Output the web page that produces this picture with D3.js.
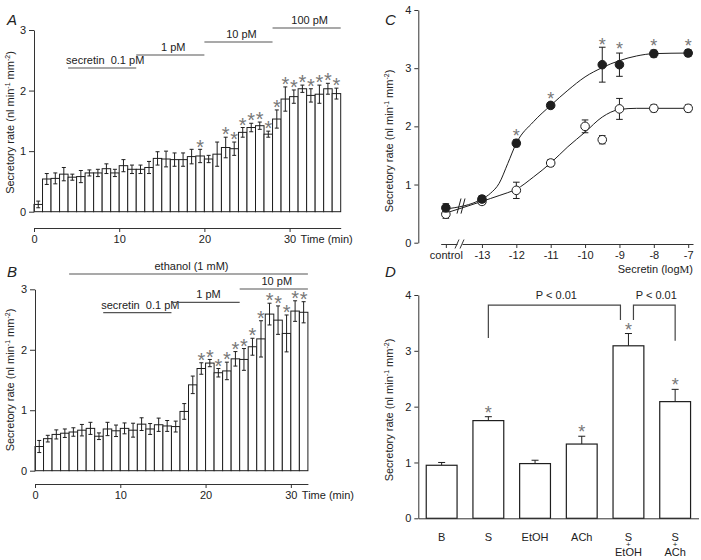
<!DOCTYPE html>
<html>
<head>
<meta charset="utf-8">
<script src="https://cdn.jsdelivr.net/npm/d3@7"></script>
<style>
  body { margin: 0; background: #fff; }
  text { font-family: "Liberation Sans", Arial, sans-serif; }
</style>
</head>
<body>
<svg id="fig" width="701" height="560"></svg>
<script>
// ---- panel A: secretin alone, 1 min samples ----
const rateA = [0.12, 0.54, 0.55, 0.62, 0.57, 0.58, 0.64, 0.64, 0.71, 0.64, 0.76, 0.70,
  0.70, 0.73, 0.88, 0.87, 0.86, 0.86, 0.91, 0.92, 0.87, 0.95, 1.06, 1.04,
  1.31, 1.39, 1.42, 1.28, 1.53, 1.86, 1.90, 2.03, 1.92, 1.94, 2.03, 1.95];
const semA = [0.055, 0.09, 0.09, 0.11, 0.05, 0.10, 0.05, 0.06, 0.08, 0.06, 0.10, 0.07,
  0.07, 0.10, 0.11, 0.13, 0.11, 0.11, 0.12, 0.11, 0.06, 0.20, 0.17, 0.11,
  0.08, 0.07, 0.06, 0.05, 0.15, 0.20, 0.11, 0.06, 0.11, 0.15, 0.09, 0.09];
const starA = [20, 23, 24, 25, 26, 27, 28, 29, 30, 31, 32, 33, 34, 35, 36];
const stimLabelA = ["secretin\u00a0 0.1 pM", "1 pM", "10 pM", "100 pM"];
const stimFromA = [4, 12, 20, 28];
const stimToA = [12, 20, 28, 36];

// ---- panel B: secretin + ethanol ----
const rateB = [0.40, 0.53, 0.60, 0.62, 0.64, 0.67, 0.70, 0.57, 0.69, 0.66, 0.70, 0.67,
  0.77, 0.69, 0.76, 0.74, 0.73, 0.98, 1.42, 1.69, 1.78, 1.62, 1.65, 1.85,
  1.84, 2.05, 2.18, 2.59, 2.49, 2.27, 2.64, 2.62];
const semB = [0.10, 0.055, 0.075, 0.07, 0.07, 0.095, 0.10, 0.055, 0.11, 0.095, 0.09, 0.115,
  0.105, 0.09, 0.11, 0.09, 0.09, 0.13, 0.145, 0.095, 0.06, 0.07, 0.145, 0.12,
  0.18, 0.14, 0.30, 0.18, 0.235, 0.305, 0.17, 0.175];
const starB = [20, 21, 22, 23, 24, 25, 26, 27, 28, 29, 30, 31, 32];
const stimLabelB = ["secretin\u00a0 0.1 pM", "1 pM", "10 pM", "ethanol (1 mM)"];
const stimFromB = [8, 16, 24, 4];
const stimToB = [16, 24, 32, 32];

// ---- panel C: dose response ----
const doseTicks = ["control", -13, -12, -11, -10, -9, -8, -7];
const doseFilled = ["control", -13, -12, -11, -9.5, -9, -8, -7];
const meanFilled = [0.60, 0.75, 1.71, 2.36, 3.06, 3.06, 3.25, 3.26];
const semFilled = [0.07, 0.06, 0.06, 0.05, 0.30, 0.20, 0.06, 0.06];
const starFilled = [false, false, true, true, true, true, true, true];
const doseOpen = ["control", -13, -12, -11, -10, -9.5, -9, -8, -7];
const meanOpen = [0.49, 0.71, 0.90, 1.37, 2.00, 1.77, 2.30, 2.31, 2.31];
const semOpen = [0.07, 0.05, 0.14, 0.06, 0.11, 0.07, 0.18, 0.06, 0.06];
const fitDose = ["control", -13, -12.75, -12.5, -12.25, -12, -11.5, -11, -10.5, -10, -9.5, -9, -8.5, -8, -7];
const fitFilled = [0.58, 0.75, 0.85, 1.02, 1.36, 1.71, 2.08, 2.36, 2.62, 2.85, 3.01, 3.13, 3.21, 3.25, 3.26];
const fitOpen = [0.51, 0.71, 0.76, 0.81, 0.86, 0.92, 1.13, 1.37, 1.65, 1.90, 2.16, 2.29, 2.31, 2.31, 2.31];

// ---- panel D: treatments ----
const groupsD = ["B", "S", "EtOH", "ACh", "S+EtOH", "S+ACh"];
const meanD = [0.95, 1.75, 0.98, 1.33, 3.09, 2.09];
const semD = [0.05, 0.07, 0.06, 0.14, 0.22, 0.22];
const starD = [false, true, false, true, true, true];
const bracketFrom = ["S", "S+EtOH"];
const bracketTo = ["S+EtOH", "S+ACh"];
const bracketLegs = [[3.23, 3.55], [3.55, 3.18]];
const bracketTop = 3.82;
const bracketText = ["P < 0.01", "P < 0.01"];

const ink = "#1e1e1e";
const axisInk = "#333";
const textInk = "#222";
const starInk = "#777";
const FONT = "Liberation Sans, Arial, sans-serif";

const svg = d3.select("#fig");
svg.append("rect").attr("width", 701).attr("height", 560).attr("fill", "#fff");

function styleAxis(g) {
  g.attr("font-size", 11).attr("font-family", FONT);
  g.select(".domain").attr("stroke", axisInk);
  g.selectAll(".tick line").attr("stroke", axisInk);
  g.selectAll(".tick text").attr("fill", textInk);
}

function yLabel(x, y) {
  const t = svg.append("text")
    .attr("transform", `translate(${x},${y}) rotate(-90)`)
    .attr("text-anchor", "middle")
    .attr("font-size", 11)
    .attr("fill", textInk);
  t.append("tspan").text("Secretory rate (nl min");
  t.append("tspan").attr("font-size", 7).attr("dy", -4).text("-1");
  t.append("tspan").attr("dy", 4).text(" mm");
  t.append("tspan").attr("font-size", 7).attr("dy", -4).text("-2");
  t.append("tspan").attr("dy", 4).text(")");
}

function panelLetter(s, x, y) {
  svg.append("text").attr("x", x).attr("y", y)
    .attr("font-size", 15).attr("font-style", "italic")
    .attr("fill", textInk).text(s);
}

// asterisk glyph centred on (x, cy)
function star(g, x, cy, size) {
  g.append("text").attr("x", x).attr("y", cy + size * 0.56)
    .attr("text-anchor", "middle").attr("font-size", size)
    .attr("fill", starInk).text("*");
}

const intFmt = d3.format("d");

// time course bar panels (A and B)
function timeCourse(o) {
  const g = svg.append("g");
  const x = d3.scaleLinear().domain([0, o.rates.length]).range(o.xRange);
  const y = d3.scaleLinear().domain([0, 3]).range(o.yRange);

  // stimulus bars on top
  o.stimLabels.forEach((lab, i) => {
    const ly = o.stimY[i];
    g.append("line")
      .attr("x1", x(o.stimFrom[i])).attr("x2", x(o.stimTo[i]))
      .attr("y1", ly).attr("y2", ly)
      .attr("stroke", "#555").attr("stroke-width", 1.2);
    const first = lab.startsWith("secretin");
    g.append("text")
      .attr("x", first ? x(o.stimFrom[i]) - 2 : (x(o.stimFrom[i]) + x(o.stimTo[i])) / 2 + 3)
      .attr("y", ly - 4)
      .attr("text-anchor", first ? "start" : "middle")
      .attr("font-size", 11).attr("fill", textInk)
      .text(lab);
  });

  g.selectAll("rect.bar").data(o.rates).join("rect")
    .attr("class", "bar")
    .attr("x", (d, i) => x(i)).attr("y", d => y(d))
    .attr("width", (d, i) => x(i + 1) - x(i))
    .attr("height", d => y(0) - y(d))
    .attr("fill", "#fff").attr("stroke", ink).attr("stroke-width", 1);

  o.rates.forEach((d, i) => {
    const cx = x(i + 0.5);
    const lo = y(d - o.sems[i]), hi = y(d + o.sems[i]);
    g.append("line").attr("x1", cx).attr("x2", cx).attr("y1", lo).attr("y2", hi)
      .attr("stroke", ink);
    [lo, hi].forEach(yy => g.append("line")
      .attr("x1", cx - 2).attr("x2", cx + 2).attr("y1", yy).attr("y2", yy)
      .attr("stroke", ink));
  });

  o.stars.forEach(n => {
    star(g, x(n - 0.5), y(o.rates[n - 1] + o.sems[n - 1]) - 7, 20);
  });

  const ya = g.append("g").attr("transform", `translate(${o.xRange[0]},0)`)
    .call(d3.axisLeft(y).tickValues([0, 1, 2, 3]).tickFormat(intFmt)
      .tickSize(5).tickPadding(3).tickSizeOuter(0));
  styleAxis(ya);

  const xa = g.append("g").attr("transform", `translate(0,${o.xAxisY})`)
    .call(d3.axisBottom(x).tickValues([0, 10, 20, 30]).tickFormat(intFmt)
      .tickSize(4).tickPadding(3).tickSizeOuter(0));
  styleAxis(xa);
  g.append("text").attr("x", x(30) + 11).attr("y", o.xAxisY + 15)
    .attr("font-size", 11).attr("fill", textInk).text("Time (min)");
}

timeCourse({
  rates: rateA, sems: semA, stars: starA,
  stimLabels: stimLabelA, stimFrom: stimFromA, stimTo: stimToA,
  stimY: [68, 55, 42, 28],
  xRange: [34, 340.7], yRange: [211.7, 30], xAxisY: 228
});
timeCourse({
  rates: rateB, sems: semB, stars: starB,
  stimLabels: stimLabelB, stimFrom: stimFromB, stimTo: stimToB,
  stimY: [312.7, 302.3, 289, 274],
  xRange: [35, 307.9], yRange: [470.7, 289.3], xAxisY: 484
});
yLabel(14, 122.5);
yLabel(14, 380);
panelLetter("A", 7, 25);
panelLetter("B", 7, 277);

// ---- panel C ----
const gC = svg.append("g");
const xC = d3.scaleLinear().domain([-14.2, -6.86]).range([440.7, 693]);
const yC = d3.scaleLinear().domain([0, 4]).range([242.7, 10]);
const posC = d => d === "control" ? xC(-14.05) : xC(d);

const fitLine = d3.line().x(d => posC(d[0])).y(d => yC(d[1])).curve(d3.curveMonotoneX);
gC.append("path").attr("d", fitLine(fitDose.map((d, i) => [d, fitFilled[i]])))
  .attr("fill", "none").attr("stroke", ink).attr("stroke-width", 1);
gC.append("path").attr("d", fitLine(fitDose.map((d, i) => [d, fitOpen[i]])))
  .attr("fill", "none").attr("stroke", ink).attr("stroke-width", 1);
// break marks across the curves
[459, 463].forEach(bx => gC.append("line")
  .attr("x1", bx - 2).attr("x2", bx + 2).attr("y1", yC(0.5)).attr("y2", yC(0.76))
  .attr("stroke", ink));

function doseSeries(doses, means, sems, fill) {
  doses.forEach((d, i) => {
    const cx = posC(d);
    const lo = yC(means[i] - sems[i]), hi = yC(means[i] + sems[i]);
    gC.append("line").attr("x1", cx).attr("x2", cx).attr("y1", lo).attr("y2", hi).attr("stroke", ink);
    [lo, hi].forEach(yy => gC.append("line")
      .attr("x1", cx - 3.3).attr("x2", cx + 3.3).attr("y1", yy).attr("y2", yy).attr("stroke", ink));
  });
  gC.selectAll(null).data(means).join("circle")
    .attr("cx", (m, i) => posC(doses[i])).attr("cy", m => yC(m)).attr("r", 4.3)
    .attr("fill", fill).attr("stroke", ink).attr("stroke-width", 1);
}
doseSeries(doseOpen, meanOpen, semOpen, "#fff");
doseSeries(doseFilled, meanFilled, semFilled, ink);
doseFilled.forEach((d, i) => {
  if (!starFilled[i]) return;
  const top = yC(meanFilled[i] + semFilled[i]) - 8;
  star(gC, posC(d), Math.max(top, 41), 18);
});

const yaC = gC.append("g").attr("transform", "translate(418.3,0)")
  .call(d3.axisLeft(yC).tickValues([0, 1, 2, 3, 4]).tickFormat(intFmt)
    .tickSize(4).tickPadding(3).tickSizeOuter(0));
styleAxis(yaC);
const xaC = gC.append("g").attr("transform", "translate(0,244)")
  .call(d3.axisBottom(xC).tickValues(doseTicks.map(d => d === "control" ? -14.05 : d))
    .tickFormat(v => v < -13.5 ? "control" : String(v))
    .tickSize(4).tickPadding(3).tickSizeOuter(0));
styleAxis(xaC);
gC.append("rect").attr("x", 457.5).attr("y", 242).attr("width", 5).attr("height", 4).attr("fill", "#fff");
[457, 462].forEach(bx => gC.append("line")
  .attr("x1", bx - 2).attr("x2", bx + 2).attr("y1", 248.5).attr("y2", 239.5)
  .attr("stroke", axisInk));
const cl = gC.append("text").attr("x", 693).attr("y", 273).attr("text-anchor", "end")
  .attr("font-size", 11).attr("fill", textInk);
cl.append("tspan").text("Secretin (log");
cl.append("tspan").attr("font-family", "Liberation Serif, serif").text("M");
cl.append("tspan").text(")");
yLabel(393, 141);
panelLetter("C", 385, 25);

// ---- panel D ----
const gD = svg.append("g");
const xD = d3.scaleBand().domain(groupsD).range([418.3, 698.5]).paddingInner(0.34).paddingOuter(0.17);
const yD = d3.scaleLinear().domain([0, 4]).range([518.3, 295]);
const midD = g => xD(g) + xD.bandwidth() / 2;

groupsD.forEach((grp, i) => {
  const cx = midD(grp);
  const hi = yD(meanD[i] + semD[i]);
  gD.append("line").attr("x1", cx).attr("x2", cx).attr("y1", yD(meanD[i])).attr("y2", hi).attr("stroke", ink);
  gD.append("line").attr("x1", cx - 3.5).attr("x2", cx + 3.5).attr("y1", hi).attr("y2", hi).attr("stroke", ink);
  if (starD[i]) star(gD, cx, hi - 8, 18);
});
gD.selectAll("rect.bar").data(meanD).join("rect")
  .attr("x", (m, i) => xD(groupsD[i])).attr("y", m => yD(m))
  .attr("width", xD.bandwidth()).attr("height", m => yD(0) - yD(m))
  .attr("fill", "#fff").attr("stroke", ink).attr("stroke-width", 1.2);

const yaD = gD.append("g").attr("transform", "translate(418.3,0)")
  .call(d3.axisLeft(yD).tickValues([0, 1, 2, 3, 4]).tickFormat(intFmt)
    .tickSize(4).tickPadding(3).tickSizeOuter(0));
styleAxis(yaD);
const xaD = gD.append("g").attr("transform", "translate(0,518.3)")
  .call(d3.axisBottom(xD).tickSize(0).tickFormat(""));
styleAxis(xaD);

// category labels, combined treatments stacked as S / + / EtOH in one text
groupsD.forEach(grp => {
  const cx = midD(grp);
  const parts = grp.split("+");
  const t = gD.append("text").attr("x", cx).attr("y", 540.5).attr("text-anchor", "middle")
    .attr("font-size", 11).attr("fill", textInk);
  t.append("tspan").attr("x", cx).text(parts[0]);
  if (parts.length > 1) {
    t.append("tspan").attr("x", cx).attr("dy", 6).attr("font-size", 8).text("+");
    t.append("tspan").attr("x", cx).attr("dy", 9.5).text(parts[1]);
  }
});

bracketFrom.forEach((from, i) => {
  const x1 = i === 0 ? midD(from) : midD(from) + 5;
  const x2 = i === 0 ? midD(bracketTo[i]) - 8 : midD(bracketTo[i]);
  const top = yD(bracketTop);
  gD.append("path")
    .attr("d", `M${x1},${yD(bracketLegs[i][0])}V${top}H${x2}V${yD(bracketLegs[i][1])}`)
    .attr("fill", "none").attr("stroke", "#444").attr("stroke-width", 1.2);
  gD.append("text").attr("x", (x1 + x2) / 2 + 2).attr("y", top - 6)
    .attr("text-anchor", "middle").attr("font-size", 11).attr("fill", textInk)
    .text(bracketText[i]);
});
yLabel(393, 410);
panelLetter("D", 385, 277);
</script>
</body>
</html>
